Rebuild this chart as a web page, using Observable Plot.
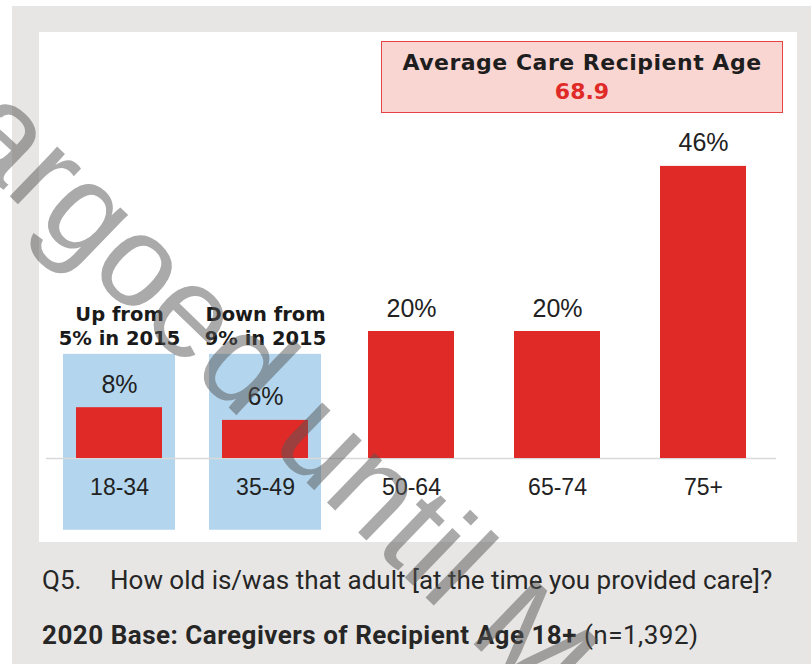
<!DOCTYPE html>
<html>
<head>
<meta charset="utf-8">
<script src="https://cdn.jsdelivr.net/npm/d3@7"></script>
<script src="https://cdn.jsdelivr.net/npm/@observablehq/plot@0.6"></script>
<style>
  html, body { margin: 0; padding: 0; }
  body { width: 811px; height: 664px; position: relative; overflow: hidden; background: #ffffff; font-family: "Liberation Sans", Arial, sans-serif; }
  #bg { position: absolute; left: 12px; top: 6px; right: 0; bottom: 0; background: #e8e6e4; }
  #panel { position: absolute; left: 39px; top: 32px; width: 758px; height: 510px; background: #ffffff; }
  #avg { position: absolute; left: 381px; top: 41px; width: 400px; background: #fad6d3; border: 1.5px solid #e44444; text-align: center; font-family: "DejaVu Sans", sans-serif; font-weight: bold; font-size: 22px; line-height: 29px; padding-top: 6px; box-sizing: content-box; height: 64px; }
  #avg .t { color: #1e1e1e; letter-spacing: 0.5px; }
  #avg .v { color: #e02a27; }
  .foot { position: absolute; left: 42px; font-family: Roboto, "Liberation Sans", sans-serif; color: #262626; font-size: 26px; white-space: pre; line-height: 30px; }
  #q { top: 565px; }
  #base { top: 620px; letter-spacing: 0.5px; }
  #wm { position: absolute; left: 0; top: 0; pointer-events: none; }
</style>
</head>
<body>
<div id="bg"></div>
<div id="panel"></div>
<div id="avg"></div>
<div id="q" class="foot"></div>
<div id="base" class="foot"></div>
<svg id="wm" width="811" height="664"></svg>
<script>
// ---- data ----
const categories = ["18-34", "35-49", "50-64", "65-74", "75+"];
const shares = [8, 6, 20, 20, 46];
const highlighted = ["18-34", "35-49"];
const highlightNotes = ["Up from\n5% in 2015", "Down from\n9% in 2015"];
const averageTitle = "Average Care Recipient Age";
const averageAge = "68.9";
const questionLabel = "Q5.";
const questionText = "How old is/was that adult [at the time you provided care]?";
const baseText = "2020 Base: Caregivers of Recipient Age 18+";
const baseN = "(n=1,392)";
const watermark = "Embargoed until May";

const bars = categories.map((c, i) => ({category: c, share: shares[i]}));
const notes = highlighted.map((c, i) => ({category: c, note: highlightNotes[i]}));

const chart = Plot.plot({
  width: 758,
  height: 510,
  marginLeft: 7,
  marginRight: 21,
  marginTop: 45,
  marginBottom: 84,
  style: {background: "transparent", fontFamily: "'Liberation Sans', Arial, sans-serif", overflow: "visible"},
  x: {domain: categories, paddingInner: 0.41, paddingOuter: 0.2, axis: null},
  y: {domain: [0, 60], axis: null},
  marks: [
    Plot.barY(notes, {x: "category", y1: -11.3, y2: 16.4, fill: "#b3d6ee", insetLeft: -13, insetRight: -13}),
    Plot.ruleY([0], {stroke: "#d9d9d9", strokeWidth: 1.5}),
    Plot.barY(bars, {x: "category", y: "share", fill: "#e02a27"}),
    Plot.text(bars, {x: "category", y: "share", text: d => d.share + "%", dy: -23, fontSize: 25, fill: "#222222"}),
    Plot.text(bars, {x: "category", y: 0, text: "category", dy: 29, fontSize: 23, fill: "#222222"}),
    Plot.text(notes, {x: "category", y: 16.4, text: "note", dy: -29, fontSize: 19.5, lineHeight: 1.23, fontWeight: "bold", fontFamily: "'DejaVu Sans', sans-serif", fill: "#1a1a1a"})
  ]
});
document.getElementById("panel").appendChild(chart);

document.getElementById("avg").innerHTML =
  `<div class="t">${averageTitle}</div><div class="v">${averageAge}</div>`;
document.getElementById("q").innerHTML =
  `${questionLabel}<span style="position:absolute;left:68px">${questionText}</span>`;
document.getElementById("base").innerHTML =
  `<b>${baseText}</b> ${baseN}`;

// watermark overlay
const wm = d3.select("#wm");
wm.append("text")
  .attr("transform", "translate(-241,-46) rotate(44)")
  .attr("font-family", "'Liberation Sans', Arial, sans-serif")
  .attr("font-size", 130)
  .attr("fill", "#555555")
  .attr("fill-opacity", 0.5)
  .text(watermark);
</script>
</body>
</html>
